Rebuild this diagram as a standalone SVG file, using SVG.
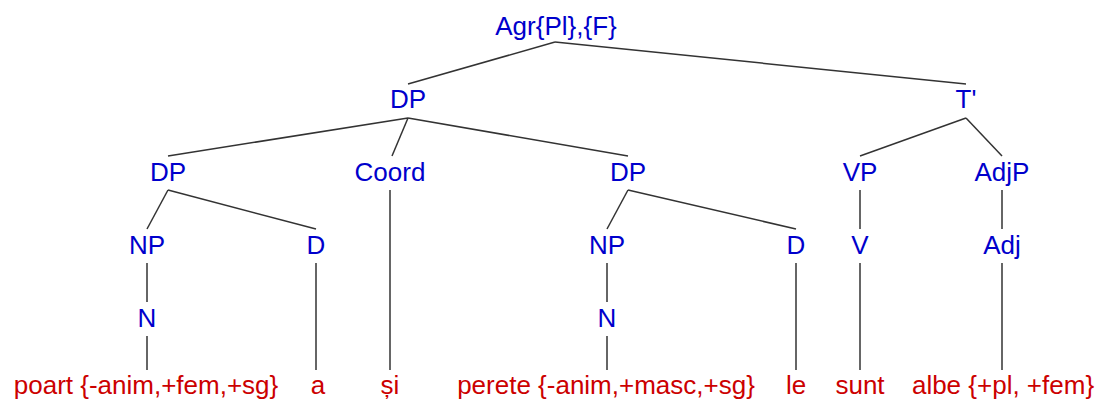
<svg xmlns="http://www.w3.org/2000/svg" width="1107" height="403" viewBox="0 0 1107 403">
<style>
text{font-family:"Liberation Sans",Arial,sans-serif;font-size:26px;text-anchor:middle}
.c{fill:#0000cc}
.l{fill:#cc0000}
#edges line{stroke:#333;stroke-width:1.5}
</style>
<rect width="1107" height="403" fill="#fff"/>
<g id="edges">
<line x1="555" y1="42" x2="408" y2="84"/>
<line x1="555" y1="42" x2="966" y2="84"/>
<line x1="408" y1="118" x2="168" y2="156"/>
<line x1="408" y1="118" x2="392" y2="156"/>
<line x1="408" y1="118" x2="628" y2="156"/>
<line x1="966" y1="118" x2="860" y2="156"/>
<line x1="966" y1="118" x2="1002" y2="156"/>
<line x1="168" y1="190" x2="147" y2="229"/>
<line x1="168" y1="190" x2="316" y2="229"/>
<line x1="390" y1="190" x2="390" y2="370"/>
<line x1="628" y1="190" x2="607" y2="229"/>
<line x1="628" y1="190" x2="796" y2="229"/>
<line x1="860" y1="190" x2="860" y2="229"/>
<line x1="1002" y1="190" x2="1002" y2="229"/>
<line x1="147" y1="263" x2="147" y2="302"/>
<line x1="316" y1="263" x2="316" y2="370"/>
<line x1="607" y1="263" x2="607" y2="302"/>
<line x1="796" y1="263" x2="796" y2="370"/>
<line x1="860" y1="263" x2="860" y2="370"/>
<line x1="1002" y1="263" x2="1002" y2="370"/>
<line x1="147" y1="336" x2="147" y2="370"/>
<line x1="607" y1="336" x2="607" y2="370"/>
</g>
<g id="n-agr"><text class="c" x="556" y="35">Agr{Pl},{F}</text></g>
<g id="n-dp"><text class="c" x="408" y="108">DP</text></g>
<g id="n-tbar"><text class="c" x="966" y="108">T'</text></g>
<g id="n-dp1"><text class="c" x="168" y="181">DP</text></g>
<g id="n-coord"><text class="c" x="390" y="181">Coord</text></g>
<g id="n-dp2"><text class="c" x="628" y="181">DP</text></g>
<g id="n-vp"><text class="c" x="860" y="181">VP</text></g>
<g id="n-adjp"><text class="c" x="1002" y="181">AdjP</text></g>
<g id="n-np1"><text class="c" x="147" y="254">NP</text></g>
<g id="n-d1"><text class="c" x="316" y="254">D</text></g>
<g id="n-np2"><text class="c" x="607" y="254">NP</text></g>
<g id="n-d2"><text class="c" x="796" y="254">D</text></g>
<g id="n-v"><text class="c" x="860" y="254">V</text></g>
<g id="n-adj"><text class="c" x="1002" y="254">Adj</text></g>
<g id="n-n1"><text class="c" x="147" y="327">N</text></g>
<g id="n-n2"><text class="c" x="607" y="327">N</text></g>
<g id="w-poart"><text class="l" x="146" y="394">poart {-anim,+fem,+sg}</text></g>
<g id="w-a"><text class="l" x="318" y="394">a</text></g>
<g id="w-si"><text class="l" x="390" y="394">și</text></g>
<g id="w-perete"><text class="l" x="606" y="394">perete {-anim,+masc,+sg}</text></g>
<g id="w-le"><text class="l" x="796" y="394">le</text></g>
<g id="w-sunt"><text class="l" x="860" y="394">sunt</text></g>
<g id="w-albe"><text class="l" x="1003" y="394">albe {+pl, +fem}</text></g>
</svg>
